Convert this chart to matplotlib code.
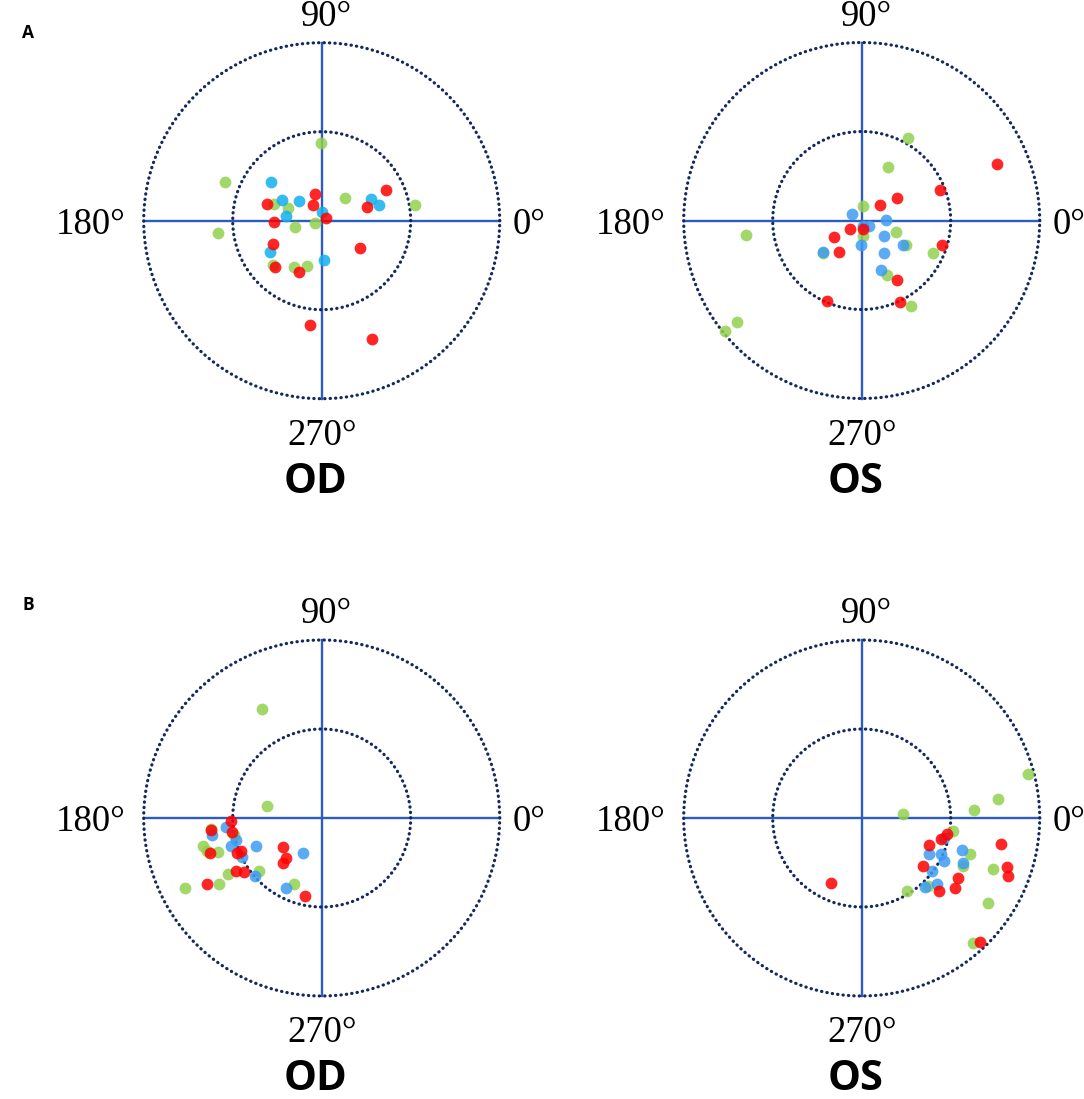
import numpy as np
import matplotlib.pyplot as plt

# point offsets in units of the inner circle radius (outer circle = 2)
# panel A, OD
a_od_green_x = [-0.01, -1.09, -0.54, -0.38, 0.26, 1.05, -1.17, -0.30, -0.07, -0.55, -0.31, -0.16]
a_od_green_y = [0.87, 0.44, 0.19, 0.14, 0.25, 0.18, -0.14, -0.07, -0.03, -0.50, -0.52, -0.51]
a_od_blue_x = [-0.57, -0.45, -0.26, -0.40, 0.00, 0.55, 0.64, -0.58, 0.03]
a_od_blue_y = [0.43, 0.23, 0.22, 0.05, 0.10, 0.24, 0.18, -0.35, -0.44]
a_od_red_x = [-0.08, -0.61, -0.10, 0.05, -0.54, 0.72, 0.51, -0.55, 0.43, -0.53, -0.26, -0.13, 0.56]
a_od_red_y = [0.30, 0.19, 0.18, 0.03, -0.01, 0.35, 0.15, -0.26, -0.31, -0.52, -0.58, -1.17, -1.33]

# panel A, OS
a_os_green_x = [0.52, 0.29, 0.01, -1.30, 0.01, 0.38, -0.44, 0.50, 0.80, 0.28, 0.55, -1.40, -1.54]
a_os_green_y = [0.93, 0.60, 0.16, -0.16, -0.17, -0.13, -0.36, -0.28, -0.36, -0.61, -0.96, -1.14, -1.24]
a_os_blue_x = [-0.11, 0.08, 0.27, 0.01, 0.25, -0.01, 0.25, 0.46, 0.22, -0.44]
a_os_blue_y = [0.07, -0.06, 0.01, -0.06, -0.17, -0.27, -0.36, -0.28, -0.56, -0.35]
a_os_red_x = [1.52, 0.88, 0.40, 0.21, -0.13, 0.01, -0.31, -0.25, 0.90, 0.40, 0.43, -0.39]
a_os_red_y = [0.64, 0.34, 0.25, 0.17, -0.09, -0.09, -0.19, -0.35, -0.28, -0.67, -0.92, -0.90]

# panel B, OD
b_od_green_x = [-0.67, -0.61, -1.33, -1.29, -1.16, -0.98, -1.05, -1.15, -1.54, -0.71, -0.31, -1.24]
b_od_green_y = [1.22, 0.13, -0.31, -0.37, -0.38, -0.19, -0.63, -0.74, -0.79, -0.59, -0.74, -0.12]
b_od_blue_x = [-1.08, -1.23, -0.96, -1.02, -0.90, -0.74, -0.75, -0.21, -0.40]
b_od_blue_y = [-0.10, -0.19, -0.25, -0.32, -0.44, -0.31, -0.65, -0.39, -0.79]
b_od_red_x = [-1.02, -1.24, -1.01, -1.25, -0.91, -0.95, -0.43, -0.40, -0.44, -0.96, -0.87, -1.29, -0.19]
b_od_red_y = [-0.03, -0.14, -0.16, -0.39, -0.37, -0.39, -0.33, -0.45, -0.50, -0.60, -0.61, -0.74, -0.88]

# panel B, OS
b_os_green_x = [1.87, 1.53, 1.26, 0.46, 1.03, 1.22, 1.14, 1.48, 0.75, 0.51, 1.42, 1.25]
b_os_green_y = [0.50, 0.21, 0.09, 0.05, -0.15, -0.40, -0.54, -0.57, -0.76, -0.82, -0.96, -1.40]
b_os_blue_x = [0.92, 0.76, 0.89, 0.93, 1.13, 1.14, 0.79, 0.85, 0.71]
b_os_blue_y = [-0.23, -0.41, -0.40, -0.48, -0.36, -0.51, -0.60, -0.74, -0.78]
b_os_red_x = [-0.34, 0.96, 0.89, 0.76, 0.69, 1.56, 1.63, 1.64, 1.08, 1.05, 0.87, 1.33]
b_os_red_y = [-0.73, -0.18, -0.24, -0.30, -0.54, -0.29, -0.55, -0.65, -0.67, -0.79, -0.82, -1.39]

panels = [
    ("OD", 321.7, 220.7, "#12b0f0",
     (a_od_green_x, a_od_green_y), (a_od_blue_x, a_od_blue_y), (a_od_red_x, a_od_red_y)),
    ("OS", 861.7, 220.5, "#3d9cf2",
     (a_os_green_x, a_os_green_y), (a_os_blue_x, a_os_blue_y), (a_os_red_x, a_os_red_y)),
    ("OD", 321.7, 818.0, "#3d9cf2",
     (b_od_green_x, b_od_green_y), (b_od_blue_x, b_od_blue_y), (b_od_red_x, b_od_red_y)),
    ("OS", 861.7, 818.0, "#3d9cf2",
     (b_os_green_x, b_os_green_y), (b_os_blue_x, b_os_blue_y), (b_os_red_x, b_os_red_y)),
]

W, H = 1084, 1099
unit = 89.0   # pixels per unit
L = 2.5
fig = plt.figure(figsize=(W / 100, H / 100), dpi=100)

line_c = "#2c5cc0"
circ_c = "#15285e"
serif = "Liberation Serif"
t = np.linspace(0, 2 * np.pi, 721)

for name, cx, cy, blue, green, bl, red in panels:
    half = L * unit
    ax = fig.add_axes([(cx - half) / W, (H - cy - half) / H, 2 * half / W, 2 * half / H])
    ax.set_xlim(-L, L)
    ax.set_ylim(-L, L)
    ax.set_aspect("equal")
    ax.axis("off")

    ax.plot([-2, 2], [0, 0], color=line_c, lw=1.7, zorder=1)
    ax.plot([0, 0], [-2, 2], color=line_c, lw=1.7, zorder=1)
    for r in (1, 2):
        ax.plot(r * np.cos(t), r * np.sin(t), color=circ_c, lw=2.3,
                linestyle=(0, (0.1, 1.6)), dash_capstyle="round", zorder=2)

    ax.scatter(green[0], green[1], s=72, color="#92d050", alpha=0.85, lw=0, zorder=3)
    ax.scatter(bl[0], bl[1], s=72, color=blue, alpha=0.85, lw=0, zorder=3)
    ax.scatter(red[0], red[1], s=72, color="#ff0000", alpha=0.85, lw=0, zorder=3)

    ax.text(0.05, 2.19, "90°", ha="center", va="baseline", fontsize=26.5, family=serif)
    ax.text(0, -2.52, "270°", ha="center", va="baseline", fontsize=26.5, family=serif)
    ax.text(-2.2, -0.15, "180°", ha="right", va="baseline", fontsize=26.5, family=serif)
    ax.text(2.15, -0.15, "0°", ha="left", va="baseline", fontsize=26.5, family=serif)
    ax.text(-0.07, -3.06, name, ha="center", va="baseline", fontsize=30,
            fontweight="bold", family="Open Sans")

fig.text(22 / W, 1 - 38 / H, "A", fontsize=12.5, fontweight="bold", family="Open Sans")
fig.text(22 / W, 1 - 610 / H, "B", fontsize=12.5, fontweight="bold", family="Open Sans")

fig.savefig("out.png", dpi=100)
